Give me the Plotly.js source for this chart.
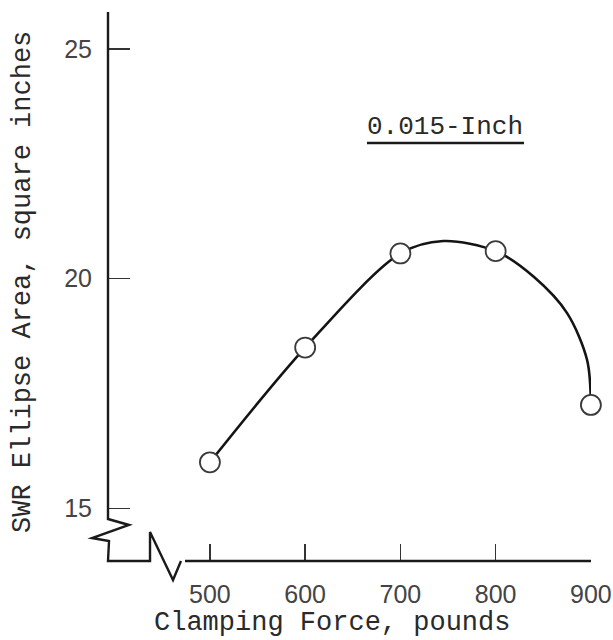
<!DOCTYPE html>
<html>
<head>
<meta charset="utf-8">
<script src="https://cdn.plot.ly/plotly-3.0.1.min.js"></script>
<style>
html,body{margin:0;padding:0;background:#fff;}
#chart{width:613px;height:640px;}
</style>
</head>
<body>
<div id="chart"></div>
<script>
// Measured points (Clamping force in pounds, SWR ellipse area in square inches)
var forceLbs = [500, 600, 700, 800, 900];
var areaSqIn = [16.0, 18.5, 20.55, 20.6, 17.25];

// Faired curve
var curveForce = [500, 600, 700, 745, 800, 840, 875, 896, 900];
var curveArea  = [16.0, 18.5, 20.55, 20.82, 20.6, 20.04, 19.25, 18.23, 17.25];

var xTickVals = [500, 600, 700, 800, 900];
var xTickText = ['500', '600', '700', '800', '900'];
var yTickVals = [15, 20, 25];
var yTickText = ['15', '20', '25'];

var seriesLabel = '0.015-Inch';
var xTitle = 'Clamping Force, pounds';
var yTitle = 'SWR Ellipse Area, square inches';

// plot-area geometry helpers (pixel -> paper)
var L = 108, R = 22, T = 12, B = 79, W = 613, H = 640;
var pw = W - L - R, ph = H - T - B;
function px(x){ return +((x - L) / pw).toFixed(4); }
function py(y){ return +((H - B - y) / ph).toFixed(4); }

var axisPath = 'M' + px(108) + ',' + py(12) +
  ' L' + px(108) + ',' + py(519) +
  ' L' + px(129) + ',' + py(525) +
  ' L' + px(92) + ',' + py(538) +
  ' L' + px(109) + ',' + py(541) +
  ' L' + px(108) + ',' + py(561) +
  ' L' + px(150) + ',' + py(561) +
  ' L' + px(150) + ',' + py(532) +
  ' L' + px(173) + ',' + py(580) +
  ' L' + px(181) + ',' + py(561) +
  ' M' + px(185) + ',' + py(561) +
  ' L' + px(591) + ',' + py(561);

var mono = 'Liberation Mono, Courier New, monospace';
var sans = 'Liberation Sans, Arial, sans-serif';

var traces = [
  {
    x: curveForce, y: curveArea, mode: 'lines', type: 'scatter',
    line: {color: '#141414', width: 2.6, shape: 'spline', smoothing: 0.9},
    hoverinfo: 'skip', showlegend: false
  },
  {
    x: forceLbs, y: areaSqIn, mode: 'markers', type: 'scatter',
    marker: {size: 20, color: '#ffffff', line: {color: '#3a3a3a', width: 1.8}},
    cliponaxis: false, showlegend: false
  }
];

var layout = {
  width: W, height: H,
  margin: {l: L, r: R, t: T, b: B, pad: 0},
  paper_bgcolor: '#ffffff', plot_bgcolor: '#ffffff',
  showlegend: false,
  xaxis: {
    range: [393, 900.1],
    showline: false, showgrid: false, zeroline: false,
    tickmode: 'array', tickvals: xTickVals, ticktext: xTickText,
    ticks: 'inside', ticklen: 17, tickwidth: 1.4, tickcolor: '#333',
    ticklabelstandoff: 16,
    tickfont: {family: sans, size: 25, color: '#444'}
  },
  yaxis: {
    range: [13.85, 25.81],
    showline: false, showgrid: false, zeroline: false,
    tickmode: 'array', tickvals: yTickVals, ticktext: yTickText,
    ticks: 'inside', ticklen: 22, tickwidth: 1.4, tickcolor: '#333',
    ticklabelstandoff: 15,
    tickfont: {family: sans, size: 25, color: '#444'}
  },
  shapes: [
    {type: 'path', xref: 'paper', yref: 'paper', path: axisPath,
     line: {color: '#1a1a1a', width: 2.4}, layer: 'above'},
    {type: 'line', xref: 'paper', yref: 'paper',
     x0: px(367), x1: px(524), y0: py(143), y1: py(143),
     line: {color: '#1a1a1a', width: 2.6}}
  ],
  annotations: [
    {text: seriesLabel, xref: 'paper', yref: 'paper', x: px(445), y: py(127),
     xanchor: 'center', yanchor: 'middle', showarrow: false,
     font: {family: mono, size: 26, color: '#2a2a2a'}},
    {text: xTitle, xref: 'paper', yref: 'paper', x: px(332), y: py(623),
     xanchor: 'center', yanchor: 'middle', showarrow: false,
     font: {family: mono, size: 27, color: '#2a2a2a'}},
    {text: yTitle, xref: 'paper', yref: 'paper', x: px(23), y: py(282),
     xanchor: 'center', yanchor: 'middle', showarrow: false, textangle: -90,
     font: {family: mono, size: 27, color: '#2a2a2a'}}
  ]
};

Plotly.newPlot('chart', traces, layout, {displayModeBar: false, staticPlot: true});
</script>
</body>
</html>
